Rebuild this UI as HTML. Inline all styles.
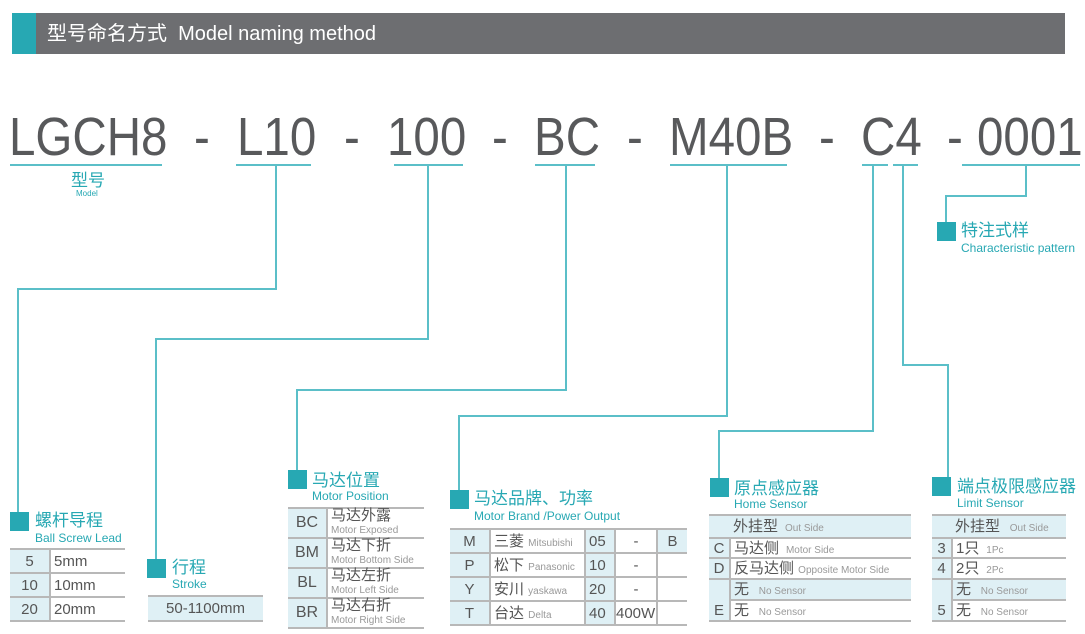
<!DOCTYPE html>
<html><head><meta charset="utf-8"><style>
*{margin:0;padding:0;box-sizing:border-box}
body{width:1085px;height:634px;background:#fff;position:relative;overflow:hidden;font-family:"Liberation Sans","Noto Sans CJK SC",sans-serif;color:#555}
.a{position:absolute;white-space:nowrap}
.big{font-size:54px;color:#58595b;top:107px;line-height:60px;transform:scaleX(0.88);transform-origin:0 0}
.box{position:absolute;width:19px;height:19px;background:#27a8b3}
.cn{position:absolute;color:#27a8b3;font-size:17px;line-height:18px;white-space:nowrap}
.en{position:absolute;color:#27a8b3;font-size:12px;line-height:13px;white-space:nowrap}
table{position:absolute;border-collapse:collapse;font-size:15px;color:#555}
td{border-top:2px solid #b8b8b8;padding:0 3px;white-space:nowrap;line-height:1}
tr:last-child td{border-bottom:2px solid #b8b8b8}
.b{background:#dff0f5}
.vl{border-right:2px solid #b8b8b8}
.s{font-size:10px;color:#999}
</style></head><body>
<div class="a" style="left:12px;top:13px;width:1053px;height:41px;background:#6d6e71"></div>
<div class="a" style="left:12px;top:13px;width:24px;height:41px;background:#27a8b3"></div>
<div class="a" style="left:47px;top:21px;font-size:20px;color:#fff;line-height:26px">型号命名方式&nbsp; Model naming method</div>

<div class="a big" style="left:9px">LGCH8</div>
<div class="a big" style="left:194px">-</div>
<div class="a big" style="left:237px">L10</div>
<div class="a big" style="left:344px">-</div>
<div class="a big" style="left:387px">100</div>
<div class="a big" style="left:492px">-</div>
<div class="a big" style="left:534px">BC</div>
<div class="a big" style="left:627px">-</div>
<div class="a big" style="left:669px">M40B</div>
<div class="a big" style="left:819px">-</div>
<div class="a big" style="left:861px">C4</div>
<div class="a big" style="left:947px">-</div>
<div class="a big" style="left:977px">0001</div>

<svg class="a" style="left:0;top:0" width="1085" height="634">
<g stroke="#5bbfc8" stroke-width="2" fill="none">
<line x1="10" y1="165" x2="162" y2="165"/>
<line x1="236" y1="165" x2="311" y2="165"/>
<line x1="394" y1="165" x2="463" y2="165"/>
<line x1="535" y1="165" x2="595" y2="165"/>
<line x1="670" y1="165" x2="787" y2="165"/>
<line x1="862" y1="165" x2="888" y2="165"/>
<line x1="893" y1="165" x2="918" y2="165"/>
<line x1="962" y1="165" x2="1080" y2="165"/>
<polyline points="276,165 276,289 18,289 18,512"/>
<polyline points="428,165 428,339 156,339 156,559"/>
<polyline points="566,165 566,390 297,390 297,470"/>
<polyline points="727,165 727,416 459,416 459,490"/>
<polyline points="873,165 873,431 719,431 719,478"/>
<polyline points="903,165 903,365 948,365 948,477"/>
<polyline points="1026,165 1026,196 946,196 946,222"/>
</g></svg>

<div class="cn" style="left:71px;top:172px">型号</div>
<div class="a" style="left:76px;top:189px;font-size:8px;color:#27a8b3">Model</div>

<div class="box" style="left:937px;top:222px"></div>
<div class="cn" style="left:961px;top:222px">特注式样</div>
<div class="en" style="left:961px;top:242px">Characteristic pattern</div>

<div class="box" style="left:10px;top:512px"></div>
<div class="cn" style="left:35px;top:512px">螺杆导程</div>
<div class="en" style="left:35px;top:532px">Ball Screw Lead</div>
<table style="left:10px;top:548px;width:115px">
<tr style="height:24px"><td class="b vl" style="width:40px;text-align:center">5</td><td>5mm</td></tr>
<tr style="height:24px"><td class="b vl" style="text-align:center">10</td><td>10mm</td></tr>
<tr style="height:24px"><td class="b vl" style="text-align:center">20</td><td>20mm</td></tr>
</table>

<div class="box" style="left:147px;top:559px"></div>
<div class="cn" style="left:172px;top:559px">行程</div>
<div class="en" style="left:172px;top:578px">Stroke</div>
<table style="left:148px;top:595px;width:115px">
<tr style="height:25px"><td class="b" style="text-align:center">50-1100mm</td></tr>
</table>

<div class="box" style="left:288px;top:470px"></div>
<div class="cn" style="left:312px;top:472px">马达位置</div>
<div class="en" style="left:312px;top:490px">Motor Position</div>
<table style="left:288px;top:507px;width:136px">
<tr style="height:28px"><td class="b vl" style="width:39px;text-align:center;font-size:16px">BC</td><td style="line-height:13px">马达外露<br><span class="s">Motor Exposed</span></td></tr>
<tr style="height:28px"><td class="b vl" style="text-align:center;font-size:16px">BM</td><td style="line-height:13px">马达下折<br><span class="s">Motor Bottom Side</span></td></tr>
<tr style="height:27px"><td class="b vl" style="text-align:center;font-size:16px">BL</td><td style="line-height:13px">马达左折<br><span class="s">Motor Left Side</span></td></tr>
<tr style="height:28px"><td class="b vl" style="text-align:center;font-size:16px">BR</td><td style="line-height:13px">马达右折<br><span class="s">Motor Right Side</span></td></tr>
</table>

<div class="box" style="left:450px;top:490px"></div>
<div class="cn" style="left:474px;top:490px">马达品牌、功率</div>
<div class="en" style="left:474px;top:510px">Motor Brand /Power Output</div>
<table style="left:450px;top:528px;width:237px">
<tr style="height:24px"><td class="b vl" style="width:40px;text-align:center">M</td><td class="vl" style="width:95px">三菱 <span class="s">Mitsubishi</span></td><td class="b vl" style="width:30px">05</td><td class="vl" style="width:42px;text-align:center">-</td><td class="b" style="text-align:center">B</td></tr>
<tr style="height:24px"><td class="b vl" style="text-align:center">P</td><td class="vl">松下 <span class="s">Panasonic</span></td><td class="b vl">10</td><td class="vl" style="text-align:center">-</td><td></td></tr>
<tr style="height:24px"><td class="b vl" style="text-align:center">Y</td><td class="vl">安川 <span class="s">yaskawa</span></td><td class="b vl">20</td><td class="vl" style="text-align:center">-</td><td></td></tr>
<tr style="height:24px"><td class="b vl" style="text-align:center">T</td><td class="vl">台达 <span class="s">Delta</span></td><td class="b vl">40</td><td class="vl" style="padding:0">400W</td><td></td></tr>
</table>

<div class="box" style="left:710px;top:478px"></div>
<div class="cn" style="left:734px;top:480px">原点感应器</div>
<div class="en" style="left:734px;top:498px">Home Sensor</div>
<table style="left:709px;top:514px;width:202px">
<tr style="height:23px"><td class="b" style="width:21px"></td><td class="b">外挂型 <span class="s">&nbsp;Out Side</span></td></tr>
<tr style="height:20px"><td class="b vl" style="text-align:center">C</td><td>马达侧 <span class="s">&nbsp;Motor Side</span></td></tr>
<tr style="height:21px"><td class="b vl" style="text-align:center">D</td><td>反马达侧 <span class="s">Opposite Motor Side</span></td></tr>
<tr style="height:21px"><td class="b vl" style="border-bottom:none"></td><td class="b">无 <span class="s">&nbsp;&nbsp;No Sensor</span></td></tr>
<tr style="height:21px"><td class="b vl" style="text-align:center;border-top:none">E</td><td>无 <span class="s">&nbsp;&nbsp;No Sensor</span></td></tr>
</table>

<div class="box" style="left:932px;top:477px"></div>
<div class="cn" style="left:957px;top:478px">端点极限感应器</div>
<div class="en" style="left:957px;top:497px">Limit Sensor</div>
<table style="left:932px;top:514px;width:134px">
<tr style="height:23px"><td class="b" style="width:20px"></td><td class="b">外挂型 <span class="s">&nbsp;&nbsp;Out Side</span></td></tr>
<tr style="height:20px"><td class="b vl" style="text-align:center">3</td><td>1只 <span class="s">&nbsp;1Pc</span></td></tr>
<tr style="height:21px"><td class="b vl" style="text-align:center">4</td><td>2只 <span class="s">&nbsp;2Pc</span></td></tr>
<tr style="height:21px"><td class="b vl" style="border-bottom:none"></td><td class="b">无 <span class="s">&nbsp;&nbsp;No Sensor</span></td></tr>
<tr style="height:21px"><td class="b vl" style="text-align:center;border-top:none">5</td><td>无 <span class="s">&nbsp;&nbsp;No Sensor</span></td></tr>
</table>
</body></html>
